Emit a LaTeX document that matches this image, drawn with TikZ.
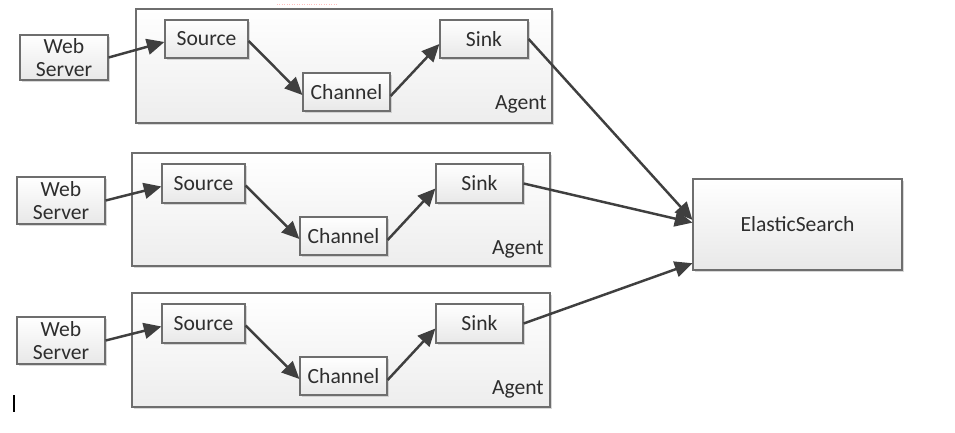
\documentclass[tikz,border=0pt]{standalone}
\usepackage{fontspec}
\setmainfont{Carlito}
\usetikzlibrary{arrows.meta,shadows,calc}
\definecolor{edge}{HTML}{6E6E6E}
\definecolor{arr}{HTML}{3F3F3F}
\definecolor{txt}{HTML}{2E2E2E}
\tikzset{
  box/.style={draw=edge, line width=0.7pt, top color=white, bottom color=black!9,
    drop shadow={shadow xshift=1.3pt, shadow yshift=-1.3pt, fill=black!30, opacity=0.5},
    inner sep=0pt, text=txt, font=\fontsize{12.3}{13.5}\selectfont, align=center},
  agentbox/.style={draw=edge, line width=0.7pt, top color=white, bottom color=black!7,
    drop shadow={shadow xshift=1.3pt, shadow yshift=-1.3pt, fill=black!30, opacity=0.5}},
  flow/.style={draw=arr, line width=1.4pt, -{Triangle[length=10pt,width=9pt]}},
  lbl/.style={font=\fontsize{12.3}{13.5}\selectfont, text=txt, inner sep=0pt}
}
\begin{document}
\begin{tikzpicture}[x=0.02cm,y=-0.02cm]
\useasboundingbox (0,0) rectangle (955,432);
\fill[white] (0,0) rectangle (955,432);
% faint artifact at top
\draw[red!25, densely dotted, line width=0.4pt] (277,4) -- (338,4);
% cursor artifact
\draw[black, line width=0.9pt] (14,395) -- (14,412);

% Agents
\path[agentbox] (136,9) rectangle (552,123);
\path[agentbox] (132,153) rectangle (550,266);
\path[agentbox] (132,293) rectangle (550,407);
\node[lbl, anchor=base east] (ag1) at (547,110) {Agent};
\node[lbl, anchor=base east] (ag2) at (544,254) {Agent};
\node[lbl, anchor=base east] (ag3) at (544,394) {Agent};

% row 1
\node[box, minimum width=1.76cm, minimum height=0.9cm] (ws1) at (64,57.5) {Web\\Server};
\node[box, minimum width=1.66cm, minimum height=0.76cm] (src1) at (206.5,39) {Source};
\node[box, minimum width=1.74cm, minimum height=0.76cm] (ch1) at (346.5,92) {Channel};
\node[box, minimum width=1.76cm, minimum height=0.76cm] (sk1) at (484,39) {Sink};
% row 2
\node[box, minimum width=1.76cm, minimum height=0.94cm] (ws2) at (61,200.5) {Web\\Server};
\node[box, minimum width=1.66cm, minimum height=0.78cm] (src2) at (203.5,183.5) {Source};
\node[box, minimum width=1.74cm, minimum height=0.76cm] (ch2) at (343.5,236) {Channel};
\node[box, minimum width=1.74cm, minimum height=0.78cm] (sk2) at (479.5,183.5) {Sink};
% row 3
\node[box, minimum width=1.76cm, minimum height=0.94cm] (ws3) at (61,340.5) {Web\\Server};
\node[box, minimum width=1.66cm, minimum height=0.78cm] (src3) at (203.5,323.5) {Source};
\node[box, minimum width=1.74cm, minimum height=0.76cm] (ch3) at (343.5,376) {Channel};
\node[box, minimum width=1.74cm, minimum height=0.78cm] (sk3) at (479.5,323.5) {Sink};

% ElasticSearch
\node[box, minimum width=4.18cm, minimum height=1.82cm] (es) at (797.5,224.5) {ElasticSearch};

% arrows
\foreach \i in {1,2,3}{
  \draw[flow] ($(ws\i.east)+(0,0)$) -- ($(src\i.west)+(0,3)$);
  \draw[flow] ($(src\i.east)+(0,2)$) -- ($(ch\i.west)+(0,3)$);
  \draw[flow] ($(ch\i.east)+(0,4)$) -- ($(sk\i.west)+(0,5)$);
}
\draw[flow] (sk1.east) -- ($(es.north west)!0.45!(es.south west)$);
\draw[flow] (sk2.east) -- ($(es.north west)!0.48!(es.south west)$);
\draw[flow] (sk3.east) -- ($(es.north west)!0.92!(es.south west)$);
\end{tikzpicture}
\end{document}
